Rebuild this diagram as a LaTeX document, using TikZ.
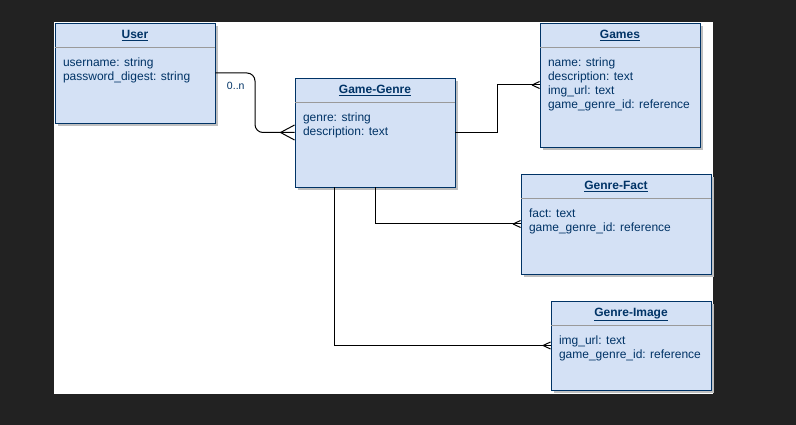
\documentclass[tikz,border=0pt]{standalone}
\usepackage{fontspec}
\setmainfont{Liberation Sans}
\usetikzlibrary{calc,shadows}
\definecolor{canvasdark}{HTML}{222222}
\definecolor{entityfill}{HTML}{D4E1F5}
\definecolor{entityline}{HTML}{003366}
\definecolor{sepgray}{HTML}{9A9A9A}
\tikzset{
	entity/.style={
			draw=entityline, fill=entityfill, line width=0.9pt, inner sep=0pt,
			drop shadow={shadow xshift=3pt, shadow yshift=-3pt, fill=black!25, opacity=1}
		},
	entitytitle/.style={anchor=base, inner sep=0pt, text=entityline,
			font=\bfseries\fontsize{12}{14}\selectfont},
	fields/.style={anchor=north west, inner sep=0pt, align=left, text=entityline,
			font=\fontsize{12}{14}\selectfont},
	sepline/.style={draw=sepgray, line width=1pt},
	rel/.style={draw=black, line width=1pt},
	mult/.style={inner sep=0pt, text=entityline, font=\fontsize{10.5}{12}\selectfont}
}
% crow's foot at a node anchor: anchor, length, half spread
\newcommand{\crowfoot}[3]{%
	\draw[rel] ($(#1)+(-#2,0)$) -- ($(#1)+(0,-#3)$)
	($(#1)+(-#2,0)$) -- ($(#1)+(0,#3)$);}

\begin{document}
\begin{tikzpicture}[x=1pt,y=-1pt]
		\useasboundingbox[fill=canvasdark] (0,0) rectangle (796,425);
		\fill[white] (54,22) rectangle (713,394);

		% User
		\node[entity, minimum width=160pt, minimum height=100pt] (user) at (135,73) {};
		\node[entitytitle] (user-title) at ($(user.north)+(0,16)$) {\underline{User}};
		\draw[sepline] ($(user.north west)+(0.5,25)$) -- ($(user.north east)+(-0.5,25)$);
		\node[fields] (user-fields) at ($(user.north west)+(8.3,34.2)$)
		{\strut username: string\\password\_digest: string};

		% Game-Genre
		\node[entity, minimum width=160pt, minimum height=109pt] (gg) at (375,132.5) {};
		\node[entitytitle] (gg-title) at ($(gg.north)+(0,16)$) {\underline{Game-Genre}};
		\draw[sepline] ($(gg.north west)+(0.5,25)$) -- ($(gg.north east)+(-0.5,25)$);
		\node[fields] (gg-fields) at ($(gg.north west)+(8.3,34.2)$)
		{\strut genre: string\\description: text};

		% Games
		\node[entity, minimum width=160pt, minimum height=124pt] (games) at (620,85) {};
		\node[entitytitle] (games-title) at ($(games.north)+(0,16)$) {\underline{Games}};
		\draw[sepline] ($(games.north west)+(0.5,25)$) -- ($(games.north east)+(-0.5,25)$);
		\node[fields] (games-fields) at ($(games.north west)+(8.3,34.2)$)
		{\strut name: string\\description: text\\img\_url: text\\game\_genre\_id: reference};

		% Genre-Fact
		\node[entity, minimum width=190pt, minimum height=100pt] (fact) at (616,224) {};
		\node[entitytitle] (fact-title) at ($(fact.north)+(0,16)$) {\underline{Genre-Fact}};
		\draw[sepline] ($(fact.north west)+(0.5,25)$) -- ($(fact.north east)+(-0.5,25)$);
		\node[fields] (fact-fields) at ($(fact.north west)+(8.3,34.2)$)
		{\strut fact: text\\game\_genre\_id: reference};

		% Genre-Image
		\node[entity, minimum width=160pt, minimum height=89pt] (image) at (631,345.5) {};
		\node[entitytitle] (image-title) at ($(image.north)+(0,16)$) {\underline{Genre-Image}};
		\draw[sepline] ($(image.north west)+(0.5,25)$) -- ($(image.north east)+(-0.5,25)$);
		\node[fields] (image-fields) at ($(image.north west)+(8.3,34.2)$)
		{\strut img\_url: text\\game\_genre\_id: reference};

		% relations
		\draw[rel, rounded corners=8pt] (user.east) -| ($(user.east)!0.5!(gg.west)$) |- (gg.west);
		\node[mult] (user-mult) at ($(user.east)+(20.3,12.5)$) {0..n};
		\crowfoot{gg.west}{14}{7.5}

		\draw[rel] (gg.east) -| ($(gg.east)!0.5!(games.west)$) |- (games.west);
		\crowfoot{games.west}{7.5}{3.5}

		\draw[rel] (gg.south) |- (fact.west);
		\crowfoot{fact.west}{7.5}{3.5}

		\draw[rel] ($(gg.south west)!0.25!(gg.south east)$) |- (image.west);
		\crowfoot{image.west}{7.5}{3.5}
	\end{tikzpicture}
\end{document}
